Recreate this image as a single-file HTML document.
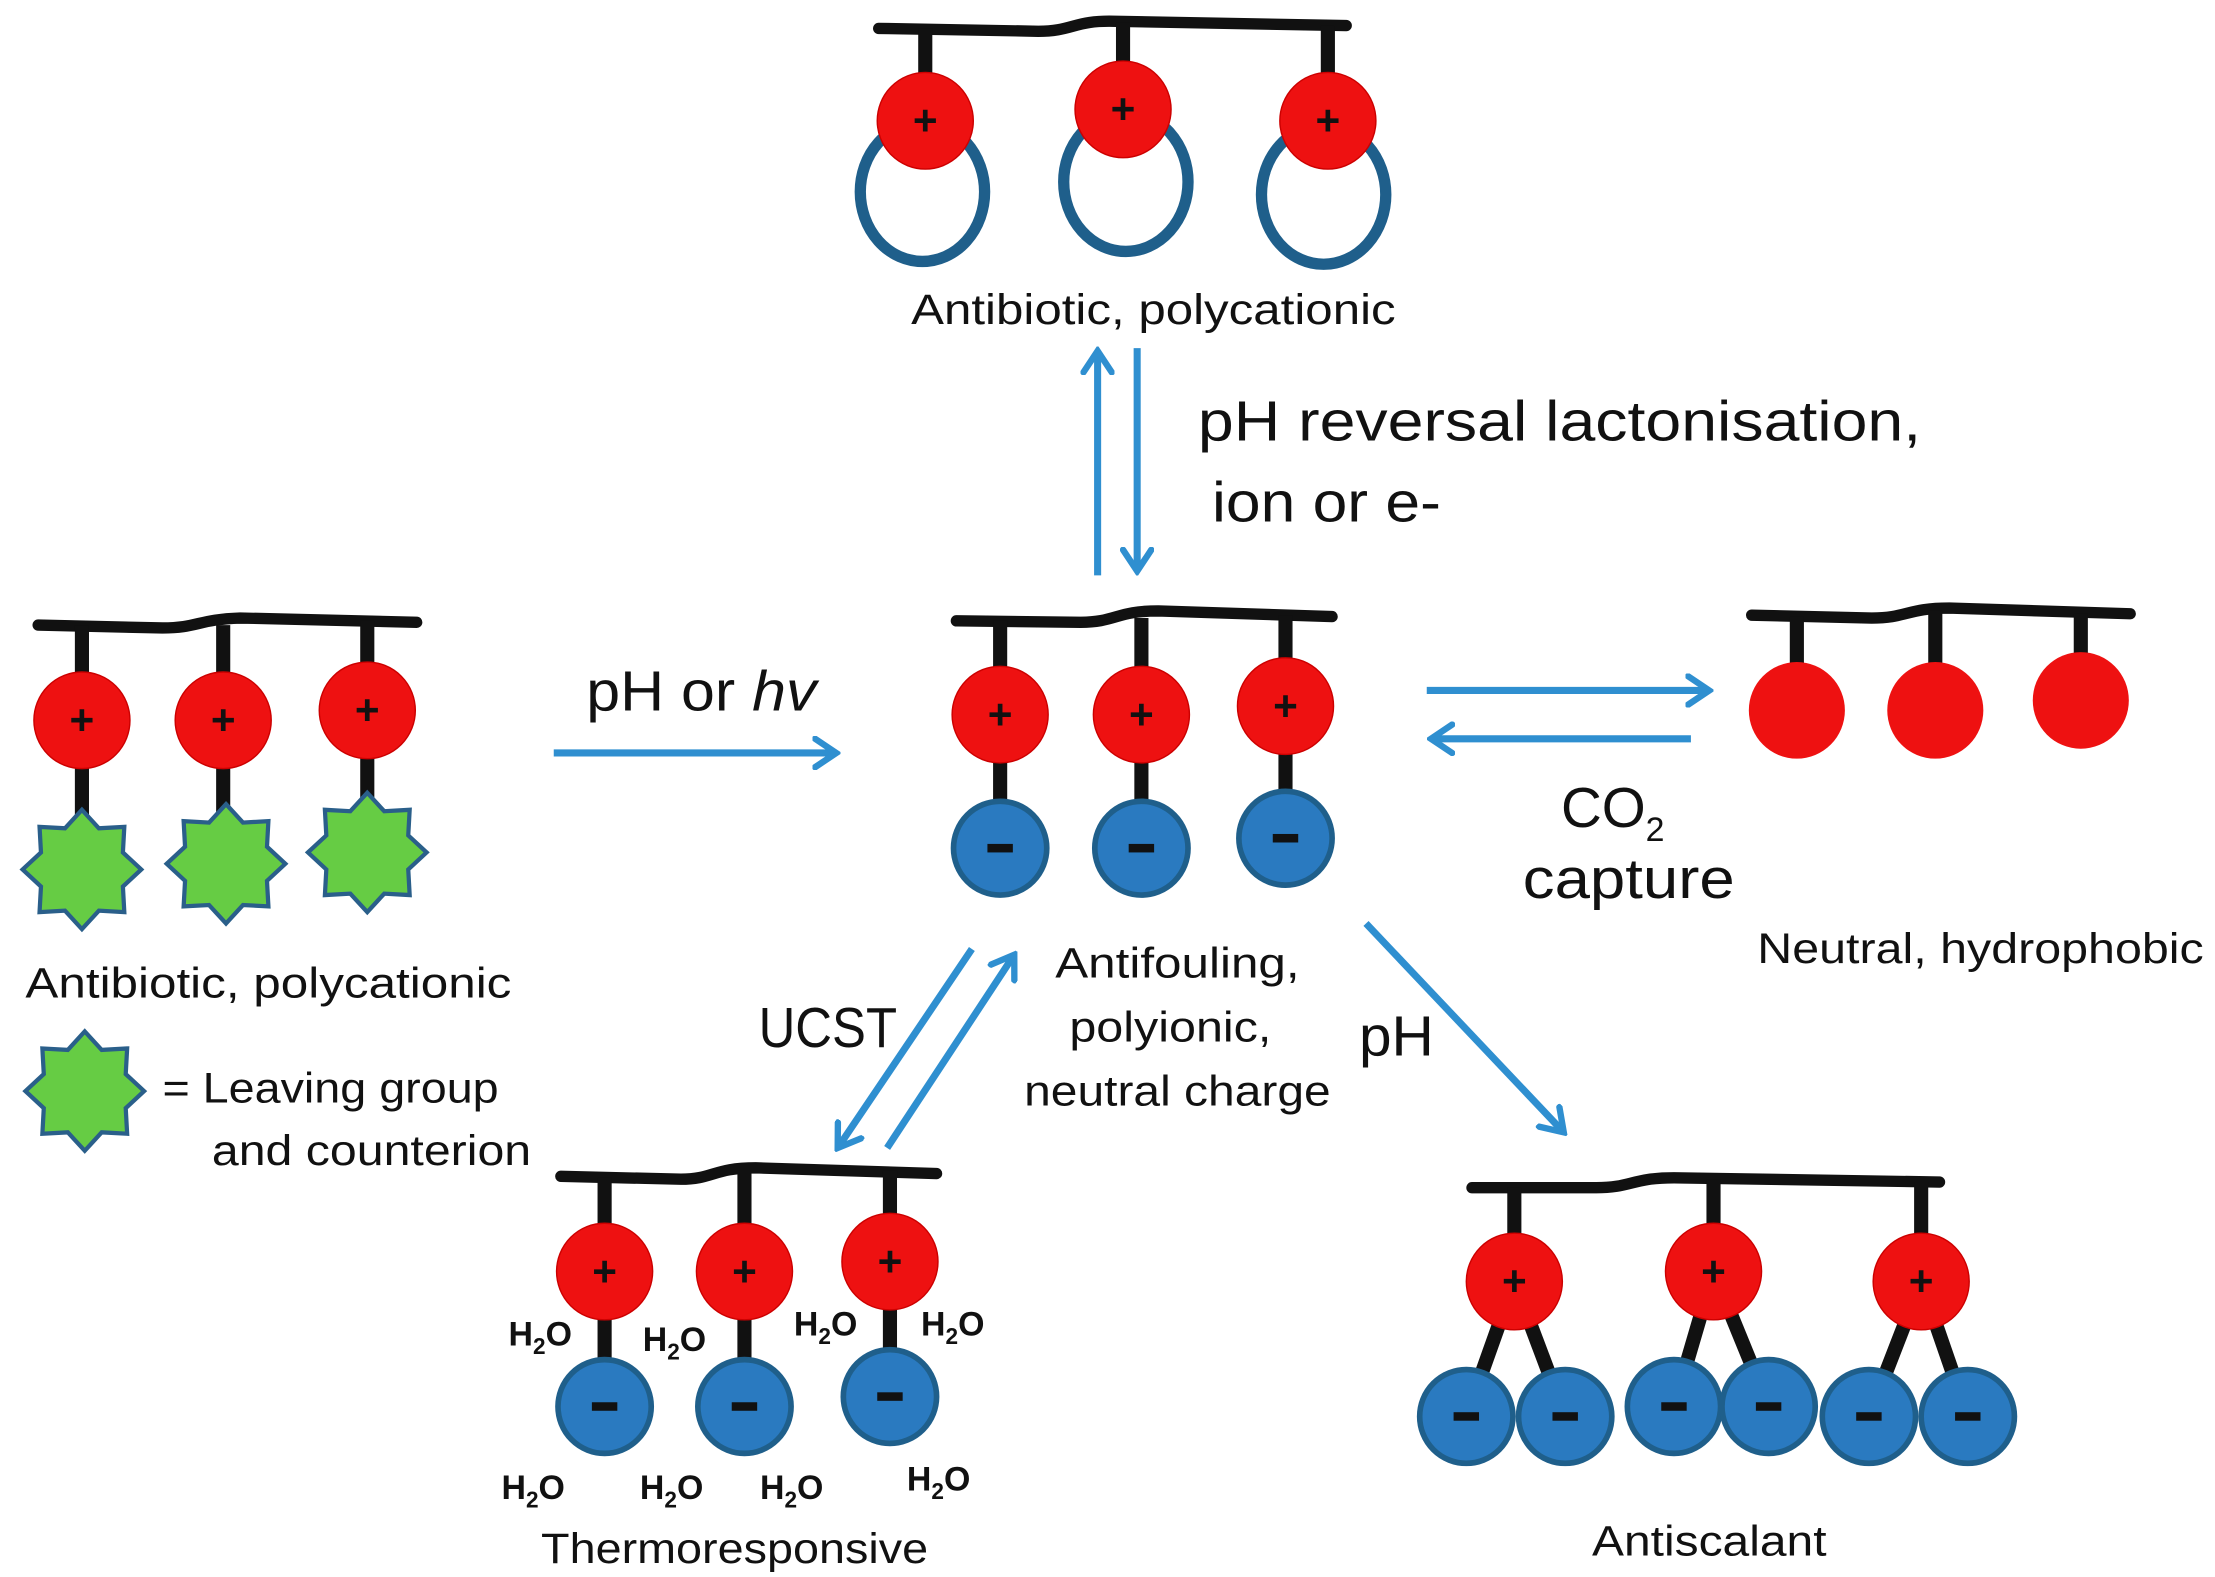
<!DOCTYPE html>
<html><head><meta charset="utf-8"><style>
html,body{margin:0;padding:0;background:#fff;}
svg{display:block;}
text{font-family:"Liberation Sans",sans-serif;fill:#111;}
</style></head><body>
<svg width="2215" height="1577" viewBox="0 0 1568 1110" preserveAspectRatio="none" xmlns="http://www.w3.org/2000/svg">
<defs>
<g id="red"><circle r="34" fill="#ee1111" stroke="#c00" stroke-width="1"/><text x="0" y="10" text-anchor="middle" font-size="30" font-weight="bold">+</text></g>
<g id="blue"><circle r="33" fill="#2a7ac0" stroke="#1f5f8b" stroke-width="4"/><rect x="-9" y="-3" width="18" height="6" fill="#111"/></g>
<g id="rd"><circle r="34" fill="#ee1111"/></g>
<polygon id="star" points="0,-42 12,-29 30,-30 29,-12 42,0 29,12 30,30 12,29 0,42 -12,29 -30,30 -29,12 -42,0 -29,-12 -30,-30 -12,-29" fill="#66cc44" stroke="#2a5f8a" stroke-width="3"/>
<marker id="ah" markerWidth="20" markerHeight="24" refX="17" refY="12" orient="auto" markerUnits="userSpaceOnUse" viewBox="0 0 20 24"><path d="M2,2 L17,12 L2,22" fill="none" stroke="#2f8fd0" stroke-width="4.5" stroke-linecap="round"/></marker>
</defs>
<g stroke="#111" stroke-width="8" fill="none" stroke-linecap="round">
<path d="M622,20 L735,22 C760,22 760,14 790,15 L953,18"/>
<path d="M27,440 L115,442 C140,442 140,436 170,435 L295,438"/>
<path d="M677,437 L765,438 C790,438 790,430 820,430 L943,434"/>
<path d="M1240,433 L1325,435 C1350,435 1350,428 1380,428 L1508,432"/>
<path d="M397,828 L482,830 C505,830 505,822 535,822 L663,826"/>
<path d="M1042,836 L1130,836 C1155,836 1155,829 1185,829 L1373,832"/>
</g>
<g stroke="#111" stroke-width="10">
<line x1="655" y1="20" x2="655" y2="60"/><line x1="795" y1="16" x2="795" y2="50"/><line x1="940" y1="18" x2="940" y2="60"/>
<line x1="58" y1="440" x2="58" y2="612"/><line x1="158" y1="440" x2="158" y2="608"/><line x1="260" y1="437" x2="260" y2="600"/>
<line x1="708" y1="437" x2="708" y2="597"/><line x1="808" y1="435" x2="808" y2="597"/><line x1="910" y1="433" x2="910" y2="590"/>
<line x1="1272" y1="434" x2="1272" y2="470"/><line x1="1370" y1="430" x2="1370" y2="470"/><line x1="1473" y1="432" x2="1473" y2="465"/>
<line x1="428" y1="829" x2="428" y2="990"/><line x1="527" y1="826" x2="527" y2="990"/><line x1="630" y1="824" x2="630" y2="983"/>
<line x1="1072" y1="836" x2="1072" y2="902"/><line x1="1213" y1="830" x2="1213" y2="895"/><line x1="1360" y1="832" x2="1360" y2="902"/>
<line x1="1072" y1="902" x2="1038" y2="997"/><line x1="1072" y1="902" x2="1108" y2="997"/>
<line x1="1213" y1="895" x2="1185" y2="990"/><line x1="1213" y1="895" x2="1252" y2="990"/>
<line x1="1360" y1="902" x2="1323" y2="997"/><line x1="1360" y1="902" x2="1393" y2="997"/>
</g>
<g fill="none" stroke="#1f5f8b" stroke-width="8">
<ellipse cx="653" cy="135" rx="44" ry="49"/><ellipse cx="797" cy="128" rx="44" ry="49"/><ellipse cx="937" cy="137" rx="44" ry="49"/>
</g>
<use href="#red" x="655" y="85"/><use href="#red" x="795" y="77"/><use href="#red" x="940" y="85"/>
<use href="#star" x="58" y="612"/><use href="#star" x="160" y="608"/><use href="#star" x="260" y="600"/>
<use href="#red" x="58" y="507"/><use href="#red" x="158" y="507"/><use href="#red" x="260" y="500"/>
<use href="#star" x="60" y="768"/>
<use href="#red" x="708" y="503"/><use href="#red" x="808" y="503"/><use href="#red" x="910" y="497"/>
<use href="#blue" x="708" y="597"/><use href="#blue" x="808" y="597"/><use href="#blue" x="910" y="590"/>
<use href="#rd" x="1272" y="500"/><use href="#rd" x="1370" y="500"/><use href="#rd" x="1473" y="493"/>
<use href="#red" x="428" y="895"/><use href="#red" x="527" y="895"/><use href="#red" x="630" y="888"/>
<use href="#blue" x="428" y="990"/><use href="#blue" x="527" y="990"/><use href="#blue" x="630" y="983"/>
<use href="#blue" x="1038" y="997"/><use href="#blue" x="1108" y="997"/><use href="#blue" x="1185" y="990"/><use href="#blue" x="1252" y="990"/><use href="#blue" x="1323" y="997"/><use href="#blue" x="1393" y="997"/>
<use href="#red" x="1072" y="902"/><use href="#red" x="1213" y="895"/><use href="#red" x="1360" y="902"/>
<g stroke="#2f8fd0" stroke-width="5" fill="none" marker-end="url(#ah)">
<line x1="777" y1="405" x2="777" y2="247"/>
<line x1="805" y1="245" x2="805" y2="402"/>
<line x1="392" y1="530" x2="592" y2="530"/>
<line x1="1010" y1="486" x2="1210" y2="486"/>
<line x1="1197" y1="520" x2="1013" y2="520"/>
<line x1="688" y1="668" x2="593" y2="808"/>
<line x1="628" y1="808" x2="718" y2="672"/>
<line x1="967" y1="650" x2="1107" y2="797"/>
</g>
<g font-size="30">
<text x="645" y="228" textLength="343" lengthAdjust="spacingAndGlyphs">Antibiotic, polycationic</text>
<text x="18" y="702" textLength="344" lengthAdjust="spacingAndGlyphs">Antibiotic, polycationic</text>
<text x="115" y="776" textLength="238" lengthAdjust="spacingAndGlyphs">= Leaving group</text>
<text x="150" y="820" textLength="226" lengthAdjust="spacingAndGlyphs">and counterion</text>
<text x="747" y="688" textLength="173" lengthAdjust="spacingAndGlyphs">Antifouling,</text>
<text x="757" y="733" textLength="143" lengthAdjust="spacingAndGlyphs">polyionic,</text>
<text x="725" y="778" textLength="217" lengthAdjust="spacingAndGlyphs">neutral charge</text>
<text x="1244" y="678" textLength="316" lengthAdjust="spacingAndGlyphs">Neutral, hydrophobic</text>
<text x="383" y="1100" textLength="274" lengthAdjust="spacingAndGlyphs">Thermoresponsive</text>
<text x="1127" y="1095" textLength="166" lengthAdjust="spacingAndGlyphs">Antiscalant</text>
</g>
<g font-size="40">
<text x="848" y="310" textLength="512" lengthAdjust="spacingAndGlyphs">pH  reversal  lactonisation,</text>
<text x="858" y="367" textLength="162" lengthAdjust="spacingAndGlyphs">ion or e-</text>
<text x="415" y="500" textLength="163" lengthAdjust="spacingAndGlyphs">pH or <tspan font-style="italic">hv</tspan></text>
<text x="1105" y="582">CO<tspan font-size="24" dy="10">2</tspan></text>
<text x="1078" y="632" textLength="150" lengthAdjust="spacingAndGlyphs">capture</text>
<text x="537" y="737" textLength="98" lengthAdjust="spacingAndGlyphs">UCST</text>
<text x="962" y="743" textLength="53" lengthAdjust="spacingAndGlyphs">pH</text>
</g>
<g font-size="24" font-weight="bold">
<text x="360" y="947">H<tspan font-size="16" dy="6">2</tspan><tspan dy="-6">O</tspan></text>
<text x="455" y="951">H<tspan font-size="16" dy="6">2</tspan><tspan dy="-6">O</tspan></text>
<text x="562" y="940">H<tspan font-size="16" dy="6">2</tspan><tspan dy="-6">O</tspan></text>
<text x="652" y="940">H<tspan font-size="16" dy="6">2</tspan><tspan dy="-6">O</tspan></text>
<text x="355" y="1055">H<tspan font-size="16" dy="6">2</tspan><tspan dy="-6">O</tspan></text>
<text x="453" y="1055">H<tspan font-size="16" dy="6">2</tspan><tspan dy="-6">O</tspan></text>
<text x="538" y="1055">H<tspan font-size="16" dy="6">2</tspan><tspan dy="-6">O</tspan></text>
<text x="642" y="1049">H<tspan font-size="16" dy="6">2</tspan><tspan dy="-6">O</tspan></text>
</g>
</svg>
</body></html>
